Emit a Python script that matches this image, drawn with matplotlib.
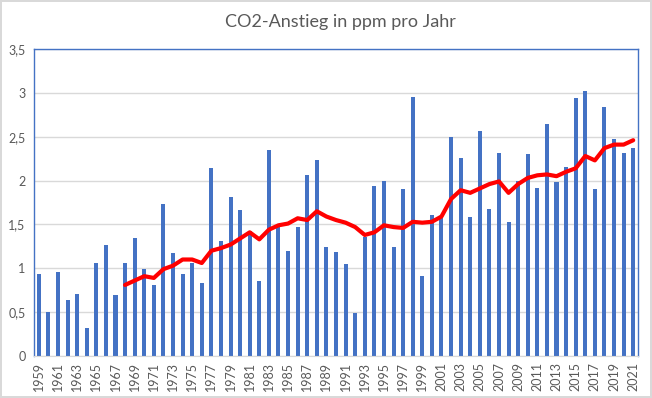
import numpy as np
import matplotlib
matplotlib.use("Agg")
from matplotlib import pyplot as plt

# Jahre und jährlicher CO2-Anstieg (ppm)
years = list(range(1959, 2022))
anstieg = [0.94, 0.50, 0.96, 0.64, 0.71, 0.32, 1.06, 1.27, 0.70, 1.06,
           1.34, 0.99, 0.81, 1.73, 1.17, 0.94, 1.06, 0.83, 2.14, 1.31,
           1.81, 1.67, 1.42, 0.85, 2.35, 1.48, 1.20, 1.47, 2.06, 2.23,
           1.24, 1.19, 1.05, 0.49, 1.36, 1.94, 2.00, 1.24, 1.90, 2.95,
           0.91, 1.61, 1.57, 2.50, 2.26, 1.58, 2.56, 1.68, 2.31, 1.53,
           1.99, 2.30, 1.91, 2.64, 1.98, 2.16, 2.94, 3.02, 1.90, 2.84,
           2.47, 2.31, 2.37]

# gleitender Mittelwert ab 1968
mittel_start = 1968
mittel = [0.81, 0.86, 0.91, 0.89, 0.99, 1.03, 1.10, 1.10, 1.06, 1.20,
          1.23, 1.27, 1.34, 1.41, 1.33, 1.44, 1.49, 1.51, 1.57, 1.55,
          1.65, 1.59, 1.55, 1.52, 1.47, 1.38, 1.41, 1.49, 1.47, 1.46,
          1.53, 1.52, 1.53, 1.59, 1.79, 1.89, 1.86, 1.91, 1.96, 1.99,
          1.86, 1.96, 2.03, 2.06, 2.07, 2.05, 2.10, 2.14, 2.28, 2.23,
          2.37, 2.41, 2.41, 2.46]

yticks = [0, 0.5, 1, 1.5, 2, 2.5, 3, 3.5]
ytick_labels = ["0", "0,5", "1", "1,5", "2", "2,5", "3", "3,5"]

plt.rcParams['font.family'] = ['Lato', 'DejaVu Sans']
grau = "#595959"
blau = "#4472C4"

fig = plt.figure(figsize=(6.52, 3.98), dpi=100)
fig.patch.set_facecolor("white")
fig.patch.set_edgecolor("#d9d9d9")
fig.patch.set_linewidth(1.5)

ax = fig.add_axes([34 / 652, 42 / 398, 604 / 652, 307 / 398])

x = np.arange(len(years))
ax.bar(x, anstieg, width=0.42, color=blau, zorder=2)

xm = np.arange(len(mittel)) + (mittel_start - years[0])
ax.plot(xm, mittel, color="#ff0000", linewidth=3, solid_joinstyle="round",
        solid_capstyle="round", zorder=3)

ax.set_xlim(-0.5, len(years) - 0.5)
ax.set_ylim(0, 3.5)
ax.set_yticks(yticks)
ax.set_yticklabels(ytick_labels)
ax.yaxis.grid(True, color="#d9d9d9", linewidth=1, zorder=0)
ax.set_axisbelow(True)

ax.set_xticks(x[::2])
ax.set_xticklabels([str(y) for y in years[::2]], rotation=90)
ax.tick_params(axis="both", length=0, labelcolor=grau, labelsize=9)
ax.tick_params(axis="x", pad=4)
ax.tick_params(axis="y", pad=6)

for s in ["left", "top", "right"]:
    ax.spines[s].set_color(blau)
    ax.spines[s].set_linewidth(1)
ax.spines["bottom"].set_color("#d9d9d9")

fig.text(340 / 652, 1 - 22 / 398, "CO2-Anstieg in ppm pro Jahr", ha="center",
         va="center", fontsize=13, color=grau)

fig.savefig("out.png", dpi=100)
